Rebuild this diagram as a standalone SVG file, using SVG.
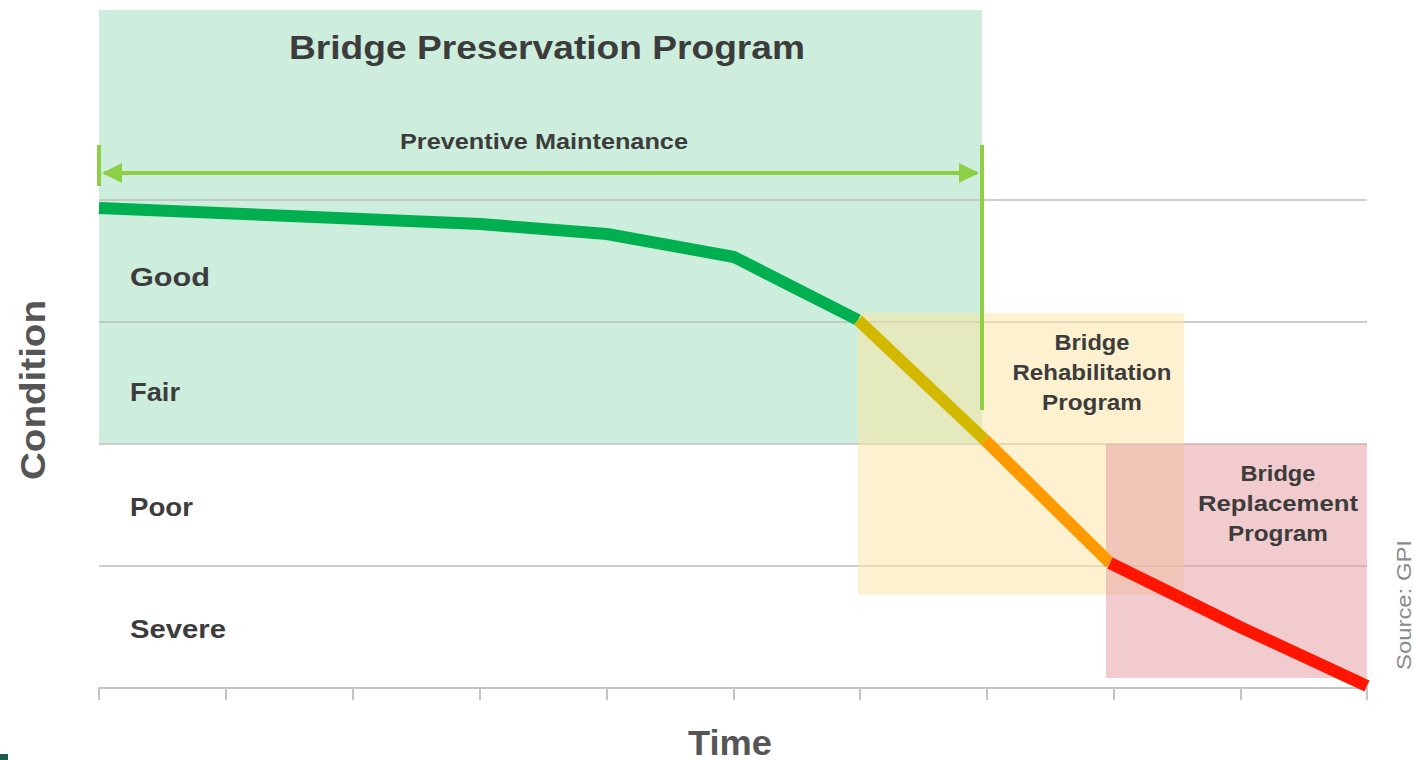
<svg xmlns="http://www.w3.org/2000/svg" width="1414" height="760" viewBox="0 0 1414 760">
<style>
.t{font-family:"Liberation Sans",Arial,sans-serif;font-weight:bold;fill:#3c3c3c}
.grid{stroke:#bdbdbd;stroke-width:1.5;fill:none}
.tick{stroke:#c4c4c4;stroke-width:2;fill:none}
.pm{stroke:#8dcf45;stroke-width:4;fill:none}
.seg{fill:none;stroke-width:12;stroke-linejoin:round}
</style>
<defs>
<marker id="ah" viewBox="0 0 10 10" refX="9" refY="5" markerWidth="5" markerHeight="5" orient="auto-start-reverse">
<path d="M0,0 L10,5 L0,10 z" fill="#8dcf45"/>
</marker>
</defs>
<rect width="1414" height="760" fill="#ffffff"/>
<g id="preservation">
<rect x="99" y="10" width="883" height="433" fill="#cdeedd"/>
<text class="t" x="547" y="59" font-size="33" text-anchor="middle" textLength="516" lengthAdjust="spacingAndGlyphs">Bridge Preservation Program</text>
</g>
<g id="grid">
<line class="grid" x1="99" y1="200" x2="1367" y2="200"/>
<line class="grid" x1="99" y1="322" x2="1367" y2="322"/>
<line class="grid" x1="99" y1="444" x2="1367" y2="444"/>
<line class="grid" x1="99" y1="566" x2="1367" y2="566"/>
</g>
<g id="rehabilitation">
<rect x="858" y="313" width="326" height="282" fill="#fbe3a0" fill-opacity="0.5"/>
<text class="t" font-size="22" text-anchor="middle"><tspan x="1092" y="350" textLength="75" lengthAdjust="spacingAndGlyphs">Bridge</tspan></text>
<text class="t" font-size="22" text-anchor="middle"><tspan x="1092" y="380" textLength="159" lengthAdjust="spacingAndGlyphs">Rehabilitation</tspan></text>
<text class="t" font-size="22" text-anchor="middle"><tspan x="1092" y="410" textLength="100" lengthAdjust="spacingAndGlyphs">Program</tspan></text>
</g>
<g id="replacement">
<rect x="1106" y="444" width="261" height="234" fill="#e6a0a4" fill-opacity="0.55"/>
<text class="t" x="1278" y="481" font-size="22" text-anchor="middle" textLength="75" lengthAdjust="spacingAndGlyphs">Bridge</text>
<text class="t" x="1278" y="511" font-size="22" text-anchor="middle" textLength="160" lengthAdjust="spacingAndGlyphs">Replacement</text>
<text class="t" x="1278" y="541" font-size="22" text-anchor="middle" textLength="100" lengthAdjust="spacingAndGlyphs">Program</text>
</g>
<g id="axis">
<path class="tick" d="M99,700 V688 H1367 V700 M226,688 V700 M353,688 V700 M480,688 V700 M607,688 V700 M734,688 V700 M860,688 V700 M987,688 V700 M1114,688 V700 M1241,688 V700"/>
</g>
<g id="connectors">
<line class="pm" x1="99" y1="145" x2="99" y2="186"/>
<line class="pm" x1="982" y1="145" x2="982" y2="410"/>
<line class="pm" x1="104" y1="173" x2="977" y2="173" marker-start="url(#ah)" marker-end="url(#ah)"/>
<polyline class="seg" stroke="#00b050" points="99,208 480,224 607,234 734,257 858,320"/>
<polyline class="seg" stroke="#d3b800" points="858,320 985,440"/>
<polyline class="seg" stroke="#ff9a00" points="985,440 1110,563"/>
<polyline class="seg" stroke="#ff1500" points="1110,563 1240,627 1367,686"/>
</g>
<g id="labels">
<text class="t" x="544" y="149" font-size="22" text-anchor="middle" textLength="288" lengthAdjust="spacingAndGlyphs">Preventive Maintenance</text>
<text class="t" x="130" y="286" font-size="26" textLength="80" lengthAdjust="spacingAndGlyphs">Good</text>
<text class="t" x="130" y="401" font-size="26" textLength="50" lengthAdjust="spacingAndGlyphs">Fair</text>
<text class="t" x="130" y="516" font-size="26" textLength="63" lengthAdjust="spacingAndGlyphs">Poor</text>
<text class="t" x="130" y="638" font-size="26" textLength="96" lengthAdjust="spacingAndGlyphs">Severe</text>
<text class="t" x="730" y="755" font-size="35" text-anchor="middle" style="fill:#555" textLength="84" lengthAdjust="spacingAndGlyphs">Time</text>
<text class="t" transform="translate(45,390) rotate(-90)" font-size="35" text-anchor="middle" style="fill:#555" textLength="180" lengthAdjust="spacingAndGlyphs">Condition</text>
<text transform="translate(1411,605) rotate(-90)" font-family="Liberation Sans,Arial,sans-serif" font-size="20" text-anchor="middle" fill="#8a8a8a" textLength="130" lengthAdjust="spacingAndGlyphs">Source: GPI</text>
</g>
<rect x="0" y="754" width="8" height="6" fill="#1d5c4a"/>
</svg>
